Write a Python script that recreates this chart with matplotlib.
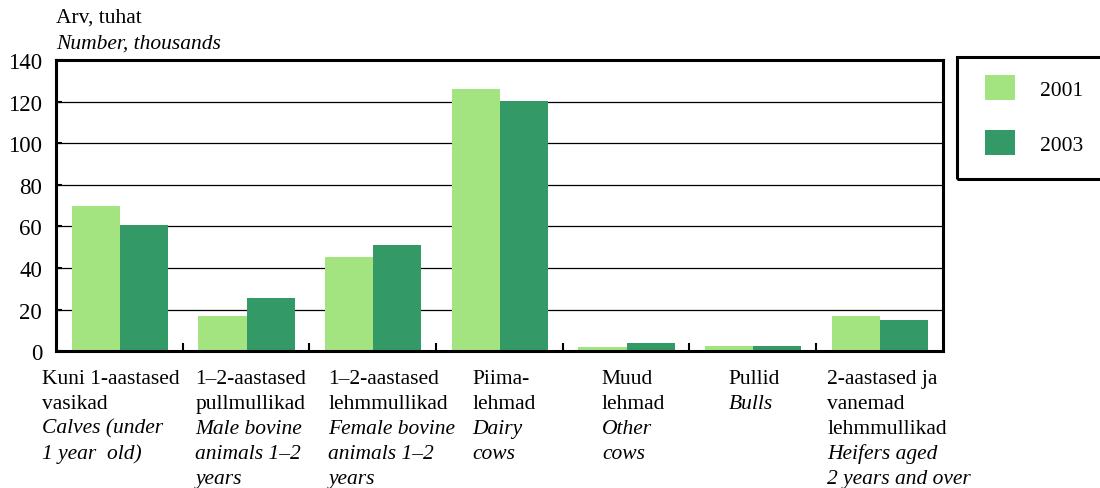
import matplotlib.pyplot as plt
from matplotlib.patches import Rectangle
import numpy as np

# Cattle by age group, thousands
years = ['2001', '2003']
values_2001 = [70, 17, 45.5, 126, 2, 2.4, 17]
values_2003 = [60.5, 25.5, 51, 120.5, 3.8, 2.4, 15]
labels_et = [
    ['Kuni 1-aastased', 'vasikad'],
    ['1–2-aastased', 'pullmullikad'],
    ['1–2-aastased', 'lehmmullikad'],
    ['Piima-', 'lehmad'],
    ['Muud', 'lehmad'],
    ['Pullid'],
    ['2-aastased ja', 'vanemad', 'lehmmullikad'],
]
labels_en = [
    ['Calves (under', '1 year  old)'],
    ['Male bovine', 'animals 1–2', 'years'],
    ['Female bovine', 'animals 1–2', 'years'],
    ['Dairy', 'cows'],
    ['Other', 'cows'],
    ['Bulls'],
    ['Heifers aged', '2 years and over'],
]
label_shift = [-0.61, -0.40, -0.35, -0.21, -0.19, -0.19, -0.41]

color_2001 = '#a4e480'
color_2003 = '#339966'

plt.rcParams['font.family'] = ['Liberation Serif', 'DejaVu Serif']
fs = 15.5

fig = plt.figure(figsize=(11, 4.89), dpi=100)
ax = fig.add_axes([0.0509, 0.280, 0.806, 0.595])

x = np.arange(len(values_2001))
w = 0.38
ax.bar(x - w / 2 + 0.005, values_2001, w, color=color_2001, label=years[0], zorder=3)
ax.bar(x + w / 2 + 0.005, values_2003, w, color=color_2003, label=years[1], zorder=3)

ax.set_xlim(-0.5, len(x) - 0.5)
ax.set_ylim(0, 140)
ax.set_yticks(range(0, 141, 20))
ax.tick_params(axis='y', labelsize=16.5, direction='in', length=4, width=1.5, pad=10)
ax.set_xticks(np.arange(len(x) - 1) + 0.5)
ax.set_xticklabels([])
ax.tick_params(axis='x', direction='in', length=6, width=1.5)
ax.grid(axis='y', color='black', linewidth=0.9, zorder=0)
for s in ax.spines.values():
    s.set_linewidth(2.2)
    s.set_zorder(4)

# category labels: Estonian in roman, English in italic below
for i in range(len(x)):
    lines = [(t, 'normal') for t in labels_et[i]] + [(t, 'italic') for t in labels_en[i]]
    for j, (t, style) in enumerate(lines):
        ax.annotate(t, xy=(i + label_shift[i], 0), xycoords=('data', 'axes fraction'),
                    xytext=(0, -19.5 - 18 * j), textcoords='offset points',
                    ha='left', va='center', fontsize=fs, style=style)

fig.text(56 / 1100, 1 - 18 / 489, 'Arv, tuhat', fontsize=fs, va='center')
fig.text(56 / 1100, 1 - 44 / 489, 'Number, thousands', fontsize=fs, va='center',
         style='italic')

# legend box runs off the right edge
fig.patches.append(Rectangle((957 / 1100, 1 - 180 / 489), 160 / 1100, 122 / 489,
                             transform=fig.transFigure, fill=False,
                             edgecolor='black', linewidth=2.2))
fig.legend(loc='upper left', bbox_to_anchor=(985 / 1100, 1 - 76 / 489),
           fontsize=fs, frameon=False, handlelength=1.4, handleheight=1.4,
           labelspacing=1.4, handletextpad=1.15, borderpad=0, borderaxespad=0)

fig.savefig('out.png', dpi=100)
